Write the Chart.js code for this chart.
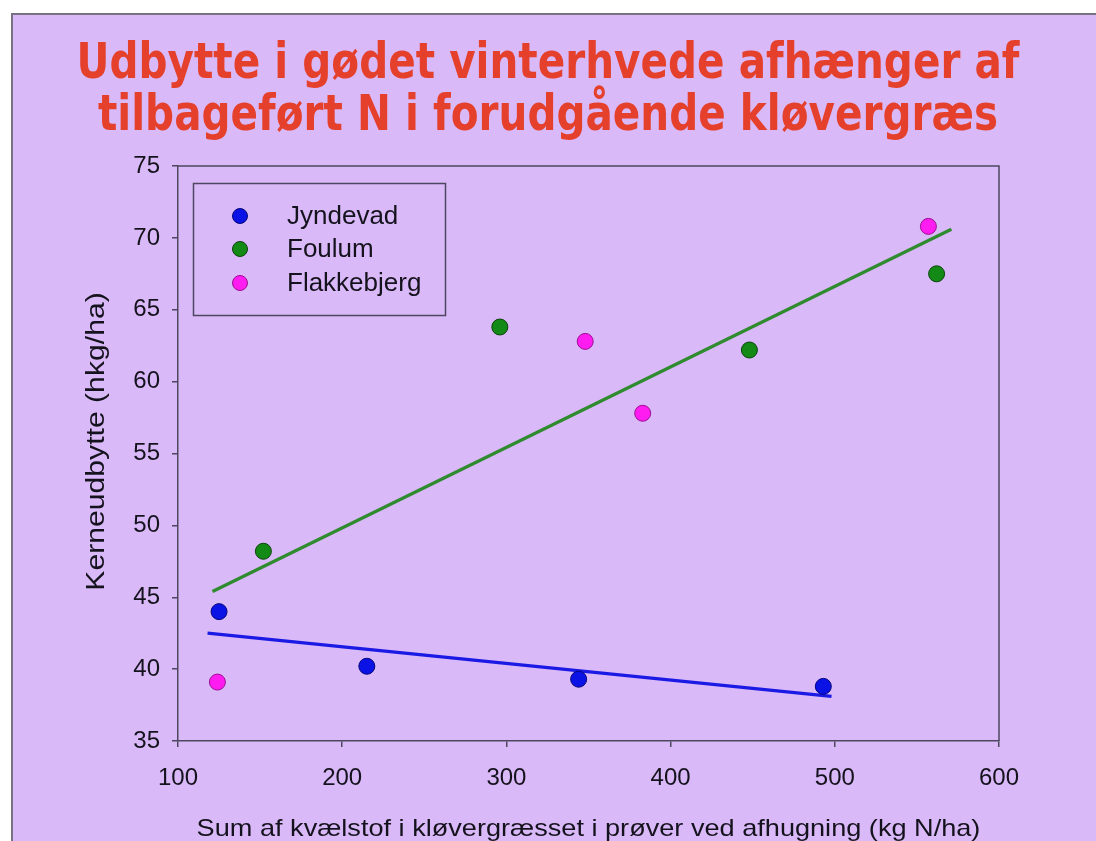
<!DOCTYPE html>
<html>
<head>
<meta charset="utf-8">
<script src="https://cdn.jsdelivr.net/npm/chart.js@4.4.1/dist/chart.umd.min.js"></script>
<style>
html, body { margin: 0; padding: 0; background: #ffffff; }
canvas { display: block; }
</style>
</head>
<body>
<canvas id="c" width="1096" height="841"></canvas>
<script>
// ---- data ----
const titleLines = ['Udbytte i gødet vinterhvede afhænger af', 'tilbageført N i forudgående kløvergræs'];
const xAxisTitle = 'Sum af kvælstof i kløvergræsset i prøver ved afhugning (kg N/ha)';
const yAxisTitle = 'Kerneudbytte (hkg/ha)';
const seriesNames = ['Jyndevad', 'Foulum', 'Flakkebjerg'];

const jyndevadX = [125, 215, 344, 493];
const jyndevadY = [44.0, 40.2, 39.3, 38.8];
const foulumX = [152, 296, 448, 562];
const foulumY = [48.2, 63.8, 62.2, 67.5];
const flakkebjergX = [124, 348, 383, 557];
const flakkebjergY = [39.1, 62.8, 57.8, 70.8];

const trendJyndevadX = [118, 498];
const trendJyndevadY = [42.5, 38.1];
const trendFoulumX = [121, 571];
const trendFoulumY = [45.4, 70.6];

const xTicks = [100, 200, 300, 400, 500, 600];
const yTicks = [35, 40, 45, 50, 55, 60, 65, 70, 75];

// ---- styles ----
const BG = '#dab9f8';
const AXIS = '#4d4860';
const TEXT = '#14121c';
const TITLE_COLOR = '#e5402b';

function pts(xs, ys) { return xs.map((x, i) => ({ x: x, y: ys[i] })); }

const pageBg = {
  id: 'pageBg',
  beforeDraw(chart) {
    const ctx = chart.ctx;
    ctx.save();
    ctx.fillStyle = '#ffffff';
    ctx.fillRect(0, 0, chart.width, chart.height);
    ctx.fillStyle = BG;
    ctx.fillRect(11, 13, chart.width, chart.height);
    ctx.strokeStyle = '#777380';
    ctx.lineWidth = 2;
    ctx.beginPath();
    ctx.moveTo(12, chart.height + 5);
    ctx.lineTo(12, 14);
    ctx.lineTo(chart.width + 5, 14);
    ctx.stroke();
    ctx.restore();
  }
};

const titlePlugin = {
  id: 'slideTitle',
  afterDraw(chart) {
    const ctx = chart.ctx;
    ctx.save();
    ctx.font = 'bold 50px "Comic Sans MS", "DejaVu Sans", sans-serif';
    ctx.fillStyle = TITLE_COLOR;
    ctx.textAlign = 'center';
    ctx.textBaseline = 'alphabetic';
    const w0 = ctx.measureText(titleLines[0]).width;
    const sx = 943 / w0;
    const cx = 548;
    const baselines = [78, 130];
    titleLines.forEach((t, i) => {
      ctx.save();
      ctx.translate(cx, baselines[i]);
      ctx.scale(sx, 1);
      ctx.fillText(t, 0, 0);
      ctx.restore();
    });
    ctx.restore();
  }
};

const framePlugin = {
  id: 'frame',
  afterDraw(chart) {
    const a = chart.chartArea;
    const ctx = chart.ctx;
    ctx.save();
    ctx.strokeStyle = AXIS;
    ctx.lineWidth = 1.5;
    ctx.beginPath();
    ctx.moveTo(a.left, a.top);
    ctx.lineTo(a.right, a.top);
    ctx.lineTo(a.right, a.bottom);
    ctx.stroke();
    ctx.restore();
  }
};

const legendPlugin = {
  id: 'boxLegend',
  afterDraw(chart) {
    const ctx = chart.ctx;
    ctx.save();
    ctx.strokeStyle = AXIS;
    ctx.lineWidth = 1.5;
    ctx.strokeRect(193.5, 183.5, 252, 132);
    const rows = [216, 249, 283];
    ctx.font = '26px "Liberation Sans", Arial, sans-serif';
    ctx.textAlign = 'left';
    ctx.textBaseline = 'middle';
    for (let i = 0; i < 3; i++) {
      const ds = chart.data.datasets[i];
      ctx.beginPath();
      ctx.arc(240, rows[i], 7.5, 0, Math.PI * 2);
      ctx.fillStyle = ds.backgroundColor;
      ctx.fill();
      ctx.lineWidth = 1;
      ctx.strokeStyle = ds.borderColor;
      ctx.stroke();
      ctx.fillStyle = TEXT;
      ctx.fillText(ds.label, 287, rows[i] + 1);
    }
    ctx.restore();
  }
};

const stretchTitles = {
  id: 'stretchTitles',
  afterLayout(chart) {
    const xs = chart.scales.x, ys = chart.scales.y;
    if (xs && !xs.__wrapped) {
      const orig = xs.drawTitle;
      xs.drawTitle = function () {
        const ctx = this.ctx;
        const cx = (this.left + this.right) / 2;
        ctx.save();
        ctx.translate(cx, 0); ctx.scale(1.13, 1); ctx.translate(-cx, 0);
        orig.call(this);
        ctx.restore();
      };
      xs.__wrapped = true;
    }
    if (ys && !ys.__wrapped) {
      const orig = ys.drawTitle;
      ys.drawTitle = function () {
        const ctx = this.ctx;
        const cy = (this.top + this.bottom) / 2 - 12;
        ctx.save();
        ctx.translate(0, cy); ctx.scale(1, 1.16); ctx.translate(0, -cy - 12);
        orig.call(this);
        ctx.restore();
      };
      ys.__wrapped = true;
    }
  }
};

const scatterCommon = { type: 'scatter', pointRadius: 8, pointHoverRadius: 8, borderWidth: 1, order: 1 };

new Chart(document.getElementById('c'), {
  type: 'scatter',
  data: {
    datasets: [
      Object.assign({}, scatterCommon, { label: seriesNames[0], data: pts(jyndevadX, jyndevadY), backgroundColor: '#0b12e6', borderColor: '#05057a' }),
      Object.assign({}, scatterCommon, { label: seriesNames[1], data: pts(foulumX, foulumY), backgroundColor: '#148a16', borderColor: '#0a440b' }),
      Object.assign({}, scatterCommon, { label: seriesNames[2], data: pts(flakkebjergX, flakkebjergY), backgroundColor: '#ff1cf0', borderColor: '#9a1090' }),
      { type: 'line', label: 'Trend Jyndevad', data: pts(trendJyndevadX, trendJyndevadY), borderColor: '#1a1ae4', borderWidth: 3.2, pointRadius: 0, fill: false, order: 2 },
      { type: 'line', label: 'Trend Foulum', data: pts(trendFoulumX, trendFoulumY), borderColor: '#2e8b2e', borderWidth: 3.2, pointRadius: 0, fill: false, order: 2 }
    ]
  },
  options: {
    responsive: false,
    animation: false,
    events: [],
    layout: { padding: { left: 12, right: 97, top: 166, bottom: 0 } },
    plugins: {
      legend: { display: false },
      title: { display: false },
      tooltip: { enabled: false }
    },
    scales: {
      x: {
        type: 'linear',
        min: 100, max: 600,
        afterFit(s) { s.height = 100; },
        afterBuildTicks(s) { s.ticks = xTicks.map(v => ({ value: v })); },
        grid: { display: true, drawOnChartArea: false, drawTicks: true, tickLength: 6, color: AXIS, lineWidth: 1.5 },
        border: { display: true, color: AXIS, width: 1.5 },
        ticks: { color: TEXT, padding: 17, font: { family: '"Liberation Sans", Arial, sans-serif', size: 24 } },
        title: { display: true, text: xAxisTitle, color: TEXT, padding: { top: 0, bottom: -3 }, font: { family: '"Liberation Sans", Arial, sans-serif', size: 24 } }
      },
      y: {
        type: 'linear',
        min: 35, max: 75,
        afterFit(s) { s.width = 166; },
        afterBuildTicks(s) { s.ticks = yTicks.map(v => ({ value: v })); },
        grid: { display: true, drawOnChartArea: false, drawTicks: true, tickLength: 6, color: AXIS, lineWidth: 1.5 },
        border: { display: true, color: AXIS, width: 1.5 },
        ticks: { color: TEXT, padding: 12, font: { family: '"Liberation Sans", Arial, sans-serif', size: 24 } },
        title: { display: true, text: yAxisTitle, color: TEXT, padding: { top: 69, bottom: 0 }, font: { family: '"Liberation Sans", Arial, sans-serif', size: 26 } }
      }
    }
  },
  plugins: [pageBg, stretchTitles, framePlugin, legendPlugin, titlePlugin]
});
</script>
</body>
</html>
